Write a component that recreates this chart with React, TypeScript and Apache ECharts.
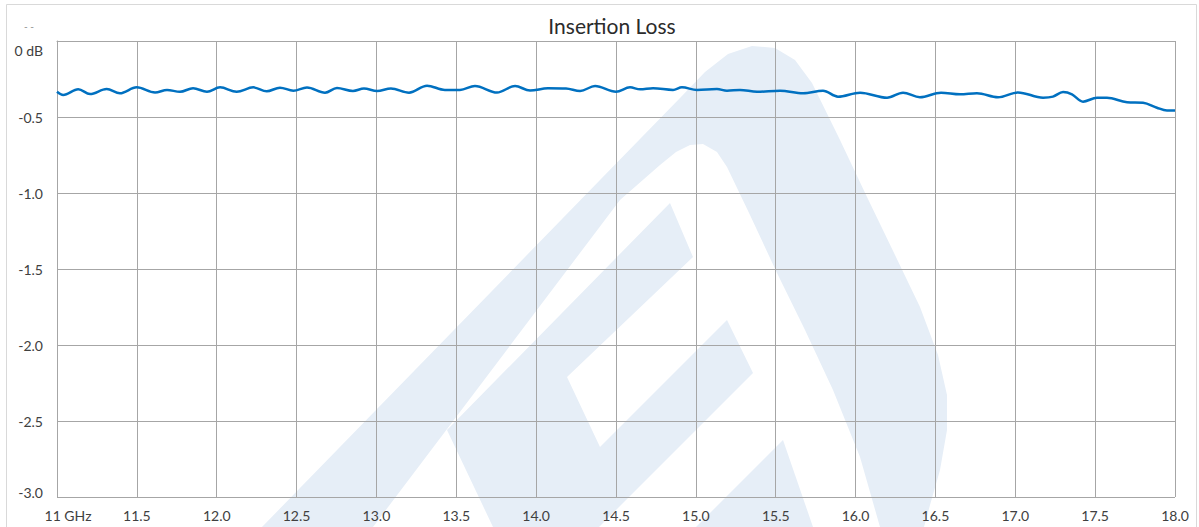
import React, { useEffect, useRef } from "react";
import * as echarts from "echarts";

// Frequency (GHz) and insertion loss (dB)
const freqGHz = [
  11.0, 11.039, 11.133, 11.207, 11.311, 11.394, 11.499, 11.614, 11.689, 11.77,
  11.852, 11.939, 12.021, 12.125, 12.229, 12.313, 12.396, 12.48, 12.565, 12.678,
  12.753, 12.853, 12.922, 13.004, 13.091, 13.204, 13.317, 13.429, 13.523, 13.617,
  13.755, 13.868, 13.962, 14.074, 14.187, 14.275, 14.369, 14.5, 14.588, 14.651,
  14.732, 14.857, 14.913, 15.007, 15.132, 15.195, 15.276, 15.383, 15.527, 15.671,
  15.796, 15.89, 16.028, 16.197, 16.297, 16.403, 16.535, 16.654, 16.76, 16.892,
  17.017, 17.174, 17.236, 17.299, 17.355, 17.424, 17.512, 17.574, 17.7, 17.8,
  17.887, 17.95, 18.0,
];
const lossDb = [
  -0.334, -0.355, -0.318, -0.349, -0.316, -0.344, -0.305, -0.339, -0.322, -0.334,
  -0.311, -0.334, -0.305, -0.334, -0.305, -0.331, -0.307, -0.327, -0.306, -0.34,
  -0.309, -0.329, -0.313, -0.329, -0.313, -0.34, -0.294, -0.322, -0.322, -0.296,
  -0.339, -0.296, -0.326, -0.311, -0.313, -0.329, -0.296, -0.334, -0.305, -0.318,
  -0.311, -0.322, -0.305, -0.322, -0.316, -0.327, -0.322, -0.334, -0.327, -0.344,
  -0.327, -0.366, -0.34, -0.373, -0.34, -0.37, -0.34, -0.351, -0.344, -0.37,
  -0.338, -0.373, -0.366, -0.336, -0.351, -0.399, -0.373, -0.373, -0.403, -0.406,
  -0.439, -0.457, -0.457,
];

const chartTitle = "Insertion Loss";
const xMin = 11;
const xMax = 18;
const xStep = 0.5;
const yMin = -3;
const yMax = 0;
const yStep = 0.5;

const WM = "#e6eef7";
const FONT = "Lato, 'Open Sans', sans-serif";
const LABEL = "#404040";
const GRIDC = "#a6a6a6";

export default function App() {
  const ref = useRef<HTMLDivElement>(null);
  useEffect(() => {
    if (!ref.current) return;
    const chart = echarts.init(ref.current, undefined, { renderer: "svg" });
    const data = freqGHz.map((f, i) => [f, lossDb[i]]);
    chart.setOption({
      animation: false,
      backgroundColor: "#ffffff",
      title: {
        text: chartTitle,
        left: 607,
        top: 10,
        textAlign: "center",
        textStyle: { fontFamily: FONT, fontSize: 21, fontWeight: "normal", color: "#2b2b2b" },
      },
      graphic: [
        {
          type: "rect",
          z: -100,
          shape: { x: 6.5, y: 4.5, width: 1190, height: 600 },
          style: { fill: "none", stroke: "#d9d9d9", lineWidth: 1 },
        },
        {
          type: "polygon",
          z: -100,
          shape: {
            points: [
              [262, 527], [600, 180], [680, 98], [705, 72], [728, 54], [752, 46], [775, 48],
              [795, 60], [812, 83], [840, 140], [867, 197], [895, 255], [920, 307], [938, 355],
              [947, 395], [947, 430], [940, 470], [930, 505], [924, 527], [880, 527], [860, 457],
              [833, 390], [805, 330], [777, 273], [750, 215], [727, 167], [717, 152], [703, 144],
              [690, 145], [676, 152], [660, 165], [620, 200], [373, 527],
            ],
          },
          style: { fill: WM },
        },
        {
          type: "polygon",
          z: -100,
          shape: {
            points: [
              [670, 203], [693, 257], [567, 377], [600, 447], [727, 320], [753, 373],
              [599, 527], [493, 527], [447, 430],
            ],
          },
          style: { fill: WM },
        },
        {
          type: "polygon",
          z: -100,
          shape: { points: [[783, 440], [813, 527], [696, 527]] },
          style: { fill: WM },
        },
        {
          type: "text",
          left: 24,
          top: 21,
          style: { text: "- -", fontSize: 10, fill: "#888888", fontFamily: FONT },
        },
      ],
      grid: { left: 57, right: 24, top: 41, bottom: 30, containLabel: false },
      xAxis: {
        type: "value",
        min: xMin,
        max: xMax,
        interval: xStep,
        axisLine: { show: true, lineStyle: { color: GRIDC, width: 1 } },
        axisTick: { show: false },
        splitLine: { show: true, lineStyle: { color: GRIDC, width: 1 } },
        axisLabel: {
          margin: 11,
          color: LABEL,
          fontFamily: FONT,
          fontSize: 14,
          showMinLabel: true,
          showMaxLabel: true,
          formatter: (v: number) => (v === xMin ? "{first|11 GHz}" : v.toFixed(1)),
          rich: {
            first: { padding: [0, 0, 0, 22], color: LABEL, fontFamily: FONT, fontSize: 14 },
          },
        },
      },
      yAxis: {
        type: "value",
        min: yMin,
        max: yMax,
        interval: yStep,
        axisLine: { show: true, lineStyle: { color: GRIDC, width: 1 } },
        axisTick: { show: false },
        splitLine: { show: true, lineStyle: { color: GRIDC, width: 1 } },
        axisLabel: {
          margin: 14,
          color: LABEL,
          fontFamily: FONT,
          fontSize: 14,
          formatter: (v: number) =>
            v === 0 ? "{top|0 dB}" : v === yMin ? "{bot|-3.0}" : v.toFixed(1),
          rich: {
            top: { padding: [18, 0, 0, 0], color: LABEL, fontFamily: FONT, fontSize: 14 },
            bot: { padding: [0, 0, 10, 0], color: LABEL, fontFamily: FONT, fontSize: 14 },
          },
        },
      },
      series: [
        {
          type: "line",
          data,
          smooth: 0.35,
          showSymbol: false,
          lineStyle: { color: "#0070c0", width: 2.5 },
          z: 5,
        },
      ],
    });
    return () => chart.dispose();
  }, []);
  return (
    <div
      ref={ref}
      style={{ position: "absolute", left: 0, top: 0, width: 1199, height: 527 }}
    />
  );
}
